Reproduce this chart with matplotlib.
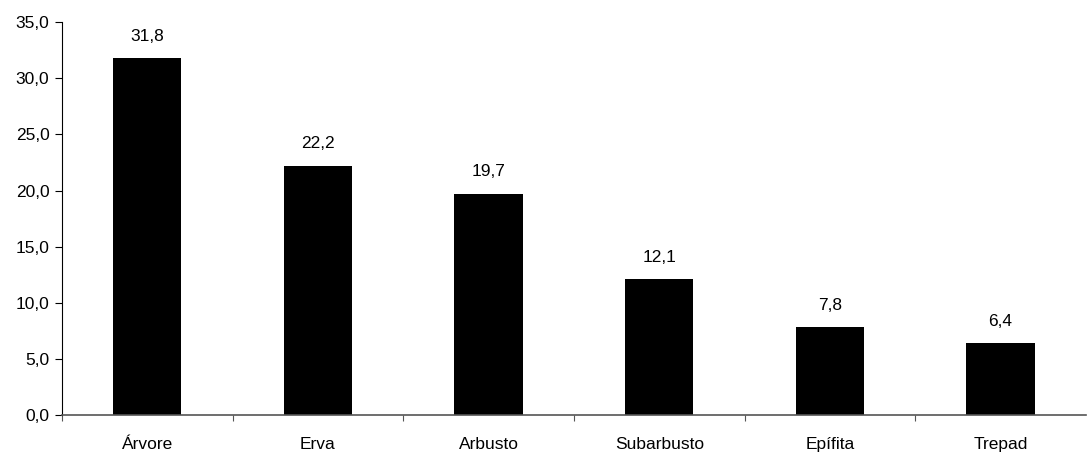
import matplotlib
matplotlib.use("Agg")
import matplotlib.pyplot as plt
from matplotlib.ticker import FixedLocator, FuncFormatter

categories = ["Árvore", "Erva", "Arbusto", "Subarbusto", "Epífita", "Trepad"]
values = [31.8, 22.2, 19.7, 12.1, 7.8, 6.4]

plt.rcParams['font.family'] = ['Liberation Sans', 'DejaVu Sans']
plt.rcParams['font.size'] = 12.5

fig = plt.figure(figsize=(10.87, 4.53), dpi=100)
ax = fig.add_axes([0.057, 0.084, 0.942, 0.867])

x = list(range(len(categories)))
ax.bar(x, values, width=0.4, color="black")
for xi, v in zip(x, values):
    ax.text(xi, v + 1.3, f"{v:.1f}".replace(".", ","), ha="center", va="bottom")

ax.set_xlim(-0.5, len(categories) - 0.5)
ax.set_ylim(0, 35)
ax.set_yticks([0, 5, 10, 15, 20, 25, 30, 35])
ax.yaxis.set_major_formatter(FuncFormatter(lambda v, p: f"{v:.1f}".replace(".", ",")))

# tick marks between categories, labels at centers
ax.xaxis.set_major_locator(FixedLocator([i - 0.5 for i in range(len(categories))]))
ax.xaxis.set_major_formatter(FuncFormatter(lambda v, p: ""))
ax.xaxis.set_minor_locator(FixedLocator(x))
ax.set_xticklabels(categories, minor=True)
ax.tick_params(axis="x", which="minor", length=0, pad=16)
ax.tick_params(axis="x", which="major", length=4, color="#555555")
ax.tick_params(axis="y", length=5, pad=4)

ax.spines["top"].set_visible(False)
ax.spines["right"].set_visible(False)
ax.spines["bottom"].set_color("#555555")
ax.spines["bottom"].set_linewidth(1.2)

fig.savefig("out.png", dpi=100)
